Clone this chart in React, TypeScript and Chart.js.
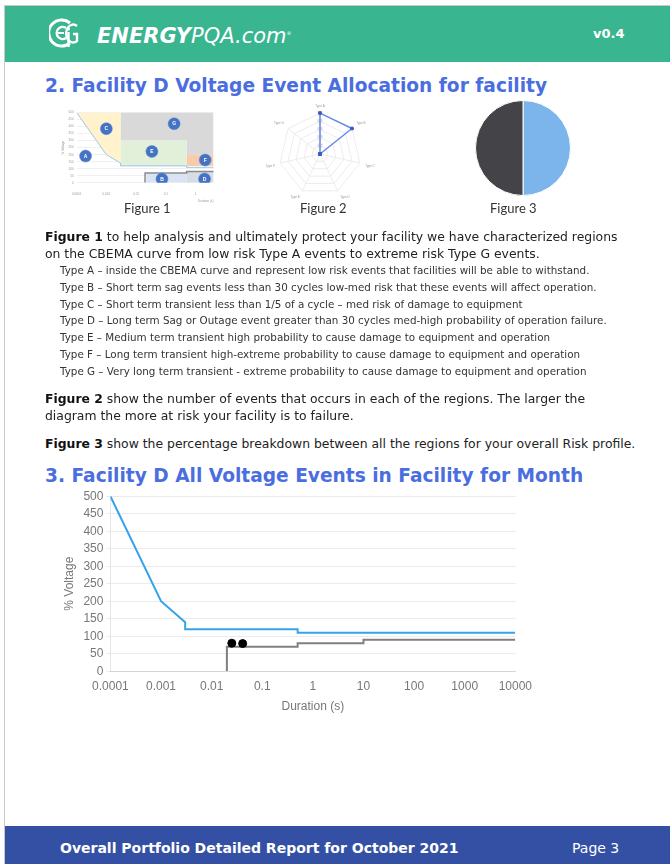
import React, { useEffect, useRef } from "react";
import { Chart, registerables } from "chart.js";
Chart.register(...registerables);

// ---------- Main chart data (Section 3) ----------
const DURATION_TICKS = [0.0001, 0.001, 0.01, 0.1, 1, 10, 100, 1000, 10000];
const DURATION_TICK_LABELS = ["0.0001", "0.001", "0.01", "0.1", "1", "10", "100", "1000", "10000"];
const UPPER_CURVE_X = [0.0001, 0.001, 0.003, 0.003, 0.5, 0.5, 10000];
const UPPER_CURVE_Y = [500, 200, 140, 120, 120, 110, 110];
const LOWER_CURVE_X = [0.02, 0.02, 0.5, 0.5, 10, 10, 10000];
const LOWER_CURVE_Y = [0, 70, 70, 80, 80, 90, 90];
const EVENT_X = [0.025, 0.041];
const EVENT_Y = [80, 79];

// ---------- Figure 1 (CBEMA regions) ----------
const FIG1_X_TICKS = [0.0001, 0.001, 0.01, 0.1, 1];
const FIG1_X_LABELS = ["0.0001", "0.001", "0.01", "0.1", "1"];
const REGION_C_X = [0.0001, 0.001, 0.003, 0.003, 0.003];
const REGION_C_Y = [500, 200, 140, 120, 500];
const REGION_G_X = [0.003, 0.003, 0.5, 0.5, 4, 4];
const REGION_G_Y = [500, 300, 300, 200, 200, 500];
const REGION_E_X = [0.003, 0.003, 0.5, 0.5];
const REGION_E_Y = [120, 300, 300, 120];
const REGION_F_X = [0.5, 0.5, 4, 4];
const REGION_F_Y = [120, 200, 200, 120];
const REGION_B_X = [0.022, 0.022, 0.5, 0.5];
const REGION_B_Y = [0, 68, 68, 0];
const REGION_D_X = [0.5, 0.5, 4, 4];
const REGION_D_Y = [0, 80, 80, 0];
const FIG1_LABELS = ["A", "B", "C", "D", "E", "F", "G"];
const FIG1_LABEL_X = [0.0002, 0.074, 0.001, 2, 0.034, 2.1, 0.19];
const FIG1_LABEL_Y = [190, 27, 385, 27, 223, 162, 420];

// ---------- Figure 2 (radar) ----------
const REGION_NAMES = ["Type A", "Type B", "Type C", "Type D", "Type E", "Type F", "Type G"];
const REGION_COUNTS = [1, 1, 0, 0, 0, 0, 0];

// ---------- Figure 3 (pie) ----------
const PIE_LABELS = ["Type A", "Type B"];
const PIE_VALUES = [50, 50];

const TYPE_LINES = [
  "Type A – inside the CBEMA curve and represent low risk events that facilities will be able to withstand.",
  "Type B – Short term sag events less than 30 cycles low-med risk that these events will affect operation.",
  "Type C – Short term transient less than 1/5 of a cycle – med risk of damage to equipment",
  "Type D – Long term Sag or Outage event greater than 30 cycles med-high probability of operation failure.",
  "Type E – Medium term transient high probability to cause damage to equipment and operation",
  "Type F – Long term transient high-extreme probability to cause damage to equipment and operation",
  "Type G – Very long term transient - extreme probability to cause damage to equipment and operation",
];

const zip = (xs: number[], ys: number[]) => xs.map((x, i) => ({ x, y: ys[i] }));

const SANS = "'DejaVu Sans', Verdana, sans-serif";

export default function App() {
  const mainRef = useRef<HTMLCanvasElement>(null);
  const fig1Ref = useRef<HTMLCanvasElement>(null);
  const fig2Ref = useRef<HTMLCanvasElement>(null);
  const fig3Ref = useRef<HTMLCanvasElement>(null);

  useEffect(() => {
    const charts: Chart[] = [];
    const grey = "#777";

    // Main chart
    charts.push(
      new Chart(mainRef.current!, {
        type: "line",
        data: {
          datasets: [
            {
              data: zip(EVENT_X, EVENT_Y),
              showLine: false,
              pointRadius: 4,
              pointBackgroundColor: "#000",
              pointBorderColor: "#000",
              borderColor: "#000",
              order: 0,
            },
            {
              data: zip(UPPER_CURVE_X, UPPER_CURVE_Y),
              borderColor: "#36a2eb",
              borderWidth: 2,
              pointRadius: 0,
              fill: false,
              tension: 0,
              order: 1,
            },
            {
              data: zip(LOWER_CURVE_X, LOWER_CURVE_Y),
              borderColor: "#808080",
              borderWidth: 2,
              pointRadius: 0,
              fill: false,
              tension: 0,
              order: 2,
            },
          ],
        },
        options: {
          animation: false,
          responsive: false,
          plugins: { legend: { display: false }, tooltip: { enabled: false } },
          scales: {
            x: {
              type: "logarithmic",
              min: 0.0001,
              max: 10000,
              grid: { display: false, drawTicks: false },
              border: { display: true, color: "rgba(0,0,0,0.1)" },
              afterBuildTicks: (axis: any) => {
                axis.ticks = DURATION_TICKS.map((v) => ({ value: v }));
              },
              ticks: {
                autoSkip: false,
                maxRotation: 0,
                padding: 8,
                color: grey,
                font: { size: 12 },
                callback: (_v: any, i: number) => DURATION_TICK_LABELS[i],
              },
              title: { display: true, text: "Duration (s)", color: grey, font: { size: 12 }, padding: { top: -2, bottom: 4 } },
            },
            y: {
              min: 0,
              max: 500,
              grid: { color: "rgba(0,0,0,0.08)", tickLength: 4 },
              border: { display: true, color: "rgba(0,0,0,0.1)" },
              ticks: { stepSize: 50, autoSkip: false, color: grey, font: { size: 12 }, padding: 3 },
              title: { display: true, text: "% Voltage", color: grey, font: { size: 12 } },
            },
          },
        },
      } as any)
    );

    // Figure 1
    const regionDs = (xs: number[], ys: number[], color: string, order: number) => ({
      data: zip(xs, ys),
      borderWidth: 0,
      borderColor: "transparent",
      backgroundColor: color,
      pointRadius: 0,
      fill: "shape",
      tension: 0,
      order,
    });
    const letterPlugin = {
      id: "letters",
      afterDatasetsDraw(chart: any) {
        const meta = chart.getDatasetMeta(0);
        const ctx = chart.ctx;
        ctx.save();
        ctx.fillStyle = "#fff";
        ctx.font = "bold 5px 'Liberation Sans', Arial, sans-serif";
        ctx.textAlign = "center";
        ctx.textBaseline = "middle";
        meta.data.forEach((pt: any, i: number) => {
          ctx.fillText(FIG1_LABELS[i], pt.x, pt.y + 0.3);
        });
        ctx.restore();
      },
    };
    charts.push(
      new Chart(fig1Ref.current!, {
        type: "line",
        data: {
          datasets: [
            {
              data: zip(FIG1_LABEL_X, FIG1_LABEL_Y),
              showLine: false,
              pointRadius: 6,
              pointBackgroundColor: "#4472c4",
              pointBorderColor: "#5b86d0",
              pointBorderWidth: 0.5,
              order: 0,
            },
            {
              data: zip(UPPER_CURVE_X, UPPER_CURVE_Y),
              borderColor: "#9cc8ec",
              borderWidth: 1,
              pointRadius: 0,
              fill: false,
              order: 1,
            },
            {
              data: zip(LOWER_CURVE_X, LOWER_CURVE_Y),
              borderColor: "#8a8a8a",
              borderWidth: 1.5,
              pointRadius: 0,
              fill: false,
              order: 2,
            },
            regionDs(REGION_C_X, REGION_C_Y, "#fff2cc", 3),
            regionDs(REGION_G_X, REGION_G_Y, "#d9d9d9", 4),
            regionDs(REGION_E_X, REGION_E_Y, "#e2f0d9", 3),
            regionDs(REGION_F_X, REGION_F_Y, "#f8cbad", 3),
            regionDs(REGION_B_X, REGION_B_Y, "#dae3f3", 3),
            regionDs(REGION_D_X, REGION_D_Y, "#d6dce5", 3),
          ],
        },
        options: {
          animation: false,
          responsive: false,
          layout: { padding: { right: 4 } },
          plugins: { legend: { display: false }, tooltip: { enabled: false } },
          scales: {
            x: {
              type: "logarithmic",
              min: 0.0001,
              max: 4,
              grid: { display: false },
              border: { display: false },
              afterBuildTicks: (axis: any) => {
                axis.ticks = FIG1_X_TICKS.map((v) => ({ value: v }));
              },
              ticks: {
                autoSkip: false,
                maxRotation: 0,
                padding: 2,
                color: "#999",
                font: { size: 3 },
                callback: (_v: any, i: number) => FIG1_X_LABELS[i],
              },
              title: { display: true, text: "Duration (s)", align: "end", color: "#999", font: { size: 3 }, padding: 1 },
            },
            y: {
              min: 0,
              max: 500,
              grid: { color: "rgba(0,0,0,0.06)", drawTicks: false },
              border: { display: false },
              ticks: { stepSize: 50, autoSkip: false, color: "#999", font: { size: 3 }, padding: 3 },
              title: { display: true, text: "% Voltage", color: "#999", font: { size: 3 }, padding: 1 },
            },
          },
        },
        plugins: [letterPlugin],
      } as any)
    );

    // Figure 2 radar
    charts.push(
      new Chart(fig2Ref.current!, {
        type: "radar",
        data: {
          labels: REGION_NAMES,
          datasets: [
            {
              data: REGION_COUNTS,
              borderColor: "#6a8be6",
              borderWidth: 1.5,
              backgroundColor: "transparent",
              pointRadius: 1.3,
              pointBackgroundColor: "#3c5cc4",
              pointBorderColor: "#3c5cc4",
              fill: false,
            },
          ],
        },
        options: {
          animation: false,
          responsive: false,
          plugins: { legend: { display: false }, tooltip: { enabled: false } },
          scales: {
            r: {
              min: 0,
              max: 1,
              ticks: { stepSize: 0.2, font: { size: 3 }, color: "#aaa", backdropPadding: 1, backdropColor: "rgba(240,240,240,0.9)" },
              pointLabels: { font: { size: 3 }, color: "#999", padding: 3 },
              grid: { color: "#ececec" },
              angleLines: { color: "#ececec" },
            },
          },
        },
      } as any)
    );

    // Figure 3 pie
    charts.push(
      new Chart(fig3Ref.current!, {
        type: "pie",
        data: {
          labels: PIE_LABELS,
          datasets: [
            {
              data: PIE_VALUES,
              backgroundColor: ["#7cb5ec", "#434348"],
              borderColor: "#ffffff",
              borderWidth: 1,
            },
          ],
        },
        options: {
          animation: false,
          responsive: false,
          plugins: { legend: { display: false }, tooltip: { enabled: false } },
        },
      } as any)
    );

    return () => charts.forEach((c) => c.destroy());
  }, []);

  const abs = (left: number, top: number, extra: React.CSSProperties = {}): React.CSSProperties => ({
    position: "absolute",
    left,
    top,
    whiteSpace: "nowrap",
    ...extra,
  });

  const bodyText: React.CSSProperties = { fontFamily: SANS, fontSize: 12.4, lineHeight: "17px", color: "#222" };
  const headingText: React.CSSProperties = { fontFamily: SANS, fontWeight: "bold", fontSize: 18.6, lineHeight: "20px", color: "#4a6ee0" };
  const caption: React.CSSProperties = { fontFamily: "Lato, sans-serif", fontSize: 13, lineHeight: "16px", color: "#333" };

  return (
    <div style={{ position: "absolute", left: 0, top: 0, width: 670, height: 864, overflow: "hidden", background: "#fff" }}>
      {/* page border */}
      <div style={{ position: "absolute", left: 4, top: 5, width: 666, height: 859, borderLeft: "1px solid #c8c8c8", borderTop: "1px solid #c8c8c8" }} />
      {/* header */}
      <div style={{ position: "absolute", left: 5, top: 6, width: 665, height: 56, background: "#39b58f" }} />
      <svg style={abs(49, 17)} width="30" height="32" viewBox="0 0 30 32">
        <path d="M21 6 A13 13 0 1 0 21 26" fill="none" stroke="#fff" strokeWidth="3" />
        <path d="M17 11 A6 6 0 1 0 17 21" fill="none" stroke="#fff" strokeWidth="2.4" />
        <line x1="9" y1="16" x2="15" y2="16" stroke="#fff" strokeWidth="2" />
        <circle cx="19.5" cy="12" r="1.5" fill="#fff" />
        <line x1="19.5" y1="15" x2="19.5" y2="30" stroke="#fff" strokeWidth="2.4" />
        <path d="M28 9 A7 9 0 1 0 28 24 L28 17 L24 17" fill="none" stroke="#fff" strokeWidth="2.4" />
      </svg>
      <div style={abs(97, 21, { fontFamily: SANS, fontSize: 21, lineHeight: "24px", color: "#fff", fontStyle: "italic" })}>
        <span style={{ fontWeight: "bold" }}>ENERGY</span>PQA.com<sup style={{ fontSize: 5 }}>®</sup>
      </div>
      <div style={abs(593, 26, { fontFamily: SANS, fontSize: 13, fontWeight: "bold", lineHeight: "16px", color: "#fff" })}>v0.4</div>

      {/* section 2 heading */}
      <div style={abs(45, 76, headingText)}>2. Facility D Voltage Event Allocation for facility</div>

      {/* figures */}
      <canvas ref={fig1Ref} width={160} height={98} style={abs(60, 106)} />
      <canvas ref={fig2Ref} width={110} height={100} style={abs(266, 102)} />
      <canvas ref={fig3Ref} width={96} height={96} style={abs(475, 100)} />
      <div style={abs(124, 200, caption)}>Figure 1</div>
      <div style={abs(300, 200, caption)}>Figure 2</div>
      <div style={abs(490, 200, caption)}>Figure 3</div>

      {/* paragraph figure 1 */}
      <div style={abs(45, 228, bodyText)}>
        <b style={{ color: "#111" }}>Figure 1</b> to help analysis and ultimately protect your facility we have characterized regions
        <br />
        on the CBEMA curve from low risk Type A events to extreme risk Type G events.
      </div>
      <div style={abs(60, 262, { fontFamily: SANS, fontSize: 10.35, lineHeight: "16.8px", color: "#333" })}>
        {TYPE_LINES.map((t, i) => (
          <div key={i}>{t}</div>
        ))}
      </div>

      <div style={abs(45, 390, bodyText)}>
        <b style={{ color: "#111" }}>Figure 2</b> show the number of events that occurs in each of the regions. The larger the
        <br />
        diagram the more at risk your facility is to failure.
      </div>
      <div style={abs(45, 435, bodyText)}>
        <b style={{ color: "#111" }}>Figure 3</b> show the percentage breakdown between all the regions for your overall Risk profile.
      </div>

      {/* section 3 heading */}
      <div style={abs(45, 466, headingText)}>3. Facility D All Voltage Events in Facility for Month</div>

      {/* main chart */}
      <canvas ref={mainRef} width={482} height={232} style={abs(58, 486)} />

      {/* footer */}
      <div style={{ position: "absolute", left: 5, top: 826, width: 665, height: 38, background: "#3350a4" }} />
      <div style={abs(60, 840, { fontFamily: SANS, fontSize: 14, fontWeight: "bold", lineHeight: "16px", color: "#fff" })}>
        Overall Portfolio Detailed Report for October 2021
      </div>
      <div style={abs(572, 840, { fontFamily: SANS, fontSize: 14, lineHeight: "16px", color: "#fff" })}>Page 3</div>
    </div>
  );
}
